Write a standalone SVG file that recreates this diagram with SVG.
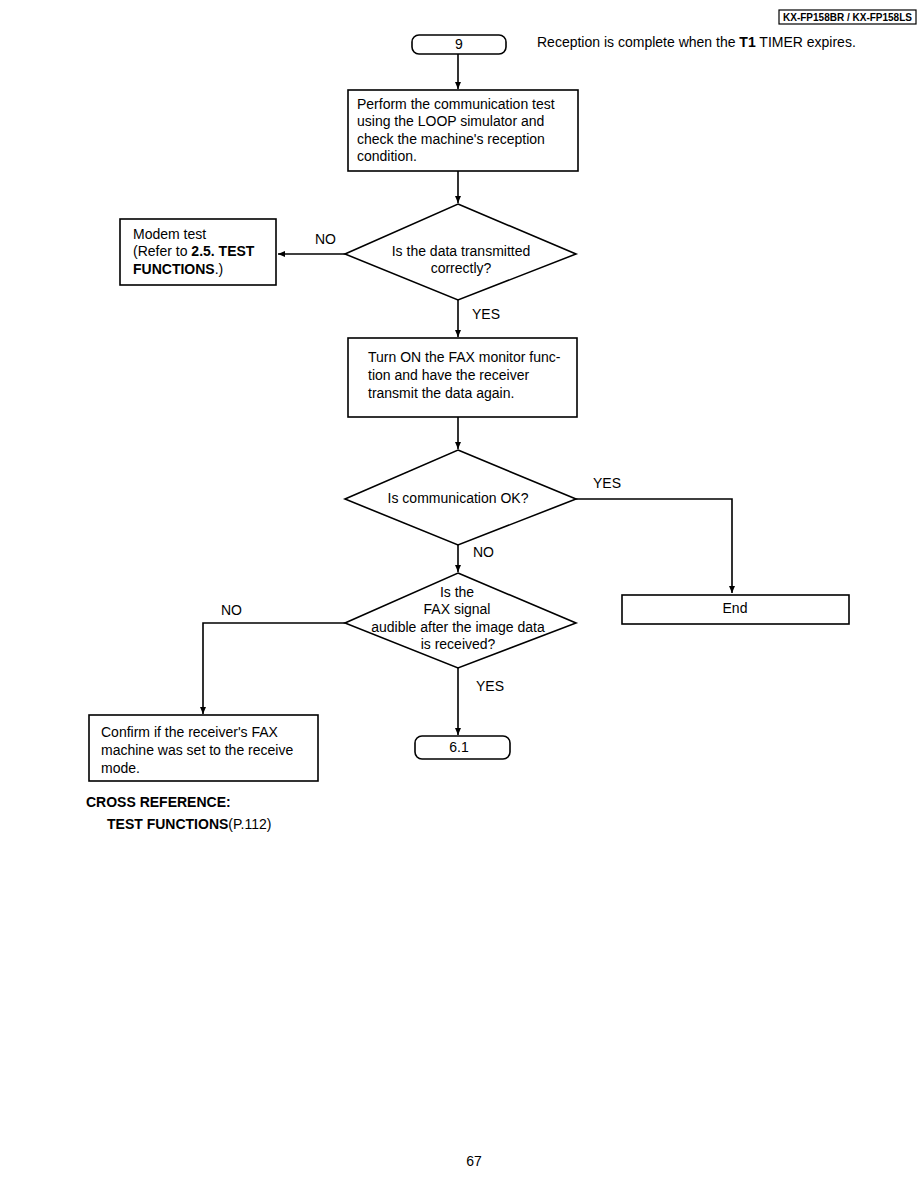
<svg xmlns="http://www.w3.org/2000/svg" width="918" height="1188" viewBox="0 0 918 1188">
<style>
text{font-family:"Liberation Sans",Arial,sans-serif;font-size:14px;fill:#000}
.b{font-weight:bold}
.c{text-anchor:middle}
.s{fill:#fff;stroke:#000;stroke-width:1.6}
.l{fill:none;stroke:#000;stroke-width:1.6}
</style>
<defs>
<marker id="a" markerWidth="8" markerHeight="8" refX="7" refY="4" orient="auto" markerUnits="userSpaceOnUse">
<path d="M0,1 L7,4 L0,7 Z" fill="#000"/>
</marker>
</defs>
<rect width="918" height="1188" fill="#fff"/>
<g id="header">
<rect x="779" y="10" width="137" height="14" fill="#fff" stroke="#000" stroke-width="1.2"/>
<text x="847.5" y="21" class="b c" style="font-size:10px">KX-FP158BR / KX-FP158LS</text>
</g>
<g id="connectors">
<path class="l" d="M458,54 V89" marker-end="url(#a)"/>
<path class="l" d="M458,171 V203" marker-end="url(#a)"/>
<path class="l" d="M345,254 H278" marker-end="url(#a)"/>
<path class="l" d="M458,300 V337" marker-end="url(#a)"/>
<path class="l" d="M458,417 V449" marker-end="url(#a)"/>
<path class="l" d="M576,499 H732 V593" marker-end="url(#a)"/>
<path class="l" d="M458,545 V572" marker-end="url(#a)"/>
<path class="l" d="M345,623 H203 V714" marker-end="url(#a)"/>
<path class="l" d="M458,668 V735" marker-end="url(#a)"/>
<text x="315" y="244">NO</text>
<text x="472" y="319">YES</text>
<text x="593" y="488">YES</text>
<text x="473" y="557">NO</text>
<text x="221" y="615">NO</text>
<text x="476" y="691">YES</text>
</g>
<g id="start9">
<rect class="s" x="412" y="35" width="94" height="19" rx="7"/>
<text x="459" y="49" class="c">9</text>
</g>
<g id="note">
<text x="537" y="47">Reception is complete when the <tspan class="b">T1</tspan> TIMER expires.</text>
</g>
<g id="box1">
<rect class="s" x="348" y="90" width="230" height="81"/>
<text x="357" y="109">Perform the communication test</text>
<text x="357" y="126">using the LOOP simulator and</text>
<text x="357" y="144">check the machine's reception</text>
<text x="357" y="161">condition.</text>
</g>
<g id="d1">
<polygon class="s" points="458,204 576,254 458,300 345,254"/>
<text x="461" y="256" class="c">Is the data transmitted</text>
<text x="461" y="273" class="c">correctly?</text>
</g>
<g id="modem">
<rect class="s" x="120" y="219" width="156" height="66"/>
<text x="133" y="239">Modem test</text>
<text x="133" y="256">(Refer to <tspan class="b">2.5. TEST</tspan></text>
<text x="133" y="274"><tspan class="b">FUNCTIONS</tspan>.)</text>
</g>
<g id="box2">
<rect class="s" x="348" y="338" width="229" height="79"/>
<text x="368" y="362">Turn ON the FAX monitor func-</text>
<text x="368" y="380">tion and have the receiver</text>
<text x="368" y="398">transmit the data again.</text>
</g>
<g id="d2">
<polygon class="s" points="458,450 576,499 458,545 345,499"/>
<text x="458" y="503" class="c">Is communication OK?</text>
</g>
<g id="end">
<rect class="s" x="622" y="595" width="227" height="29"/>
<text x="735" y="613" class="c">End</text>
</g>
<g id="d3">
<polygon class="s" points="458,573 576,623 458,668 345,623"/>
<text x="457" y="597" class="c">Is the</text>
<text x="457" y="614" class="c">FAX signal</text>
<text x="458" y="632" class="c">audible after the image data</text>
<text x="458" y="649" class="c">is received?</text>
</g>
<g id="confirm">
<rect class="s" x="89" y="715" width="229" height="66"/>
<text x="101" y="737">Confirm if the receiver's FAX</text>
<text x="101" y="755">machine was set to the receive</text>
<text x="101" y="773">mode.</text>
</g>
<g id="t61">
<rect class="s" x="415" y="736" width="95" height="23" rx="7"/>
<text x="459" y="752" class="c">6.1</text>
</g>
<g id="crossref">
<text x="86" y="807" class="b">CROSS REFERENCE:</text>
<text x="107" y="829"><tspan class="b">TEST FUNCTIONS</tspan>(P.112)</text>
</g>
<text x="474" y="1166" class="c">67</text>
</svg>
